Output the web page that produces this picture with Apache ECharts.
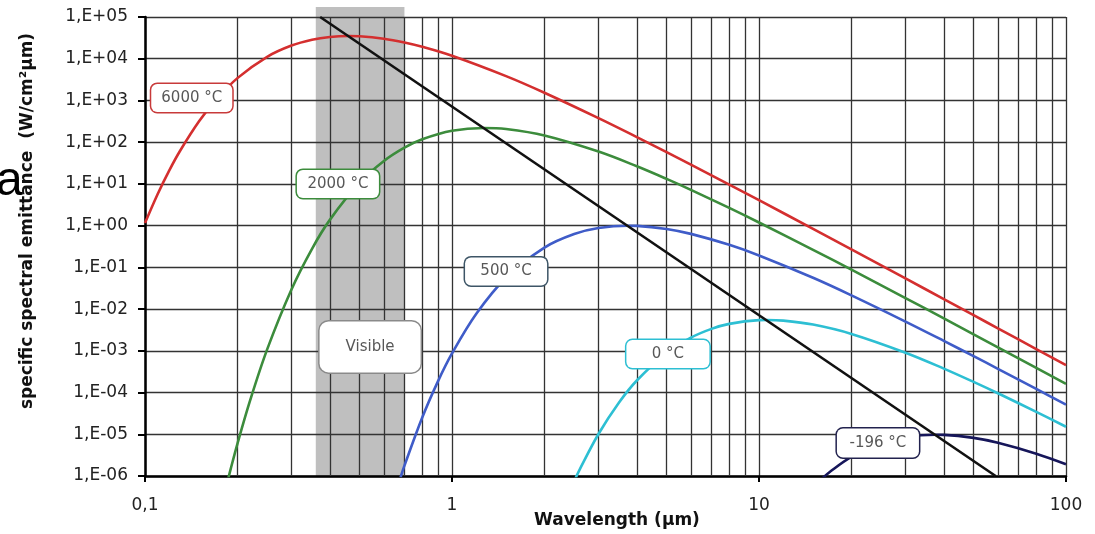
<!DOCTYPE html>
<html><head><meta charset="utf-8">
<script src="https://cdn.jsdelivr.net/npm/echarts/dist/echarts.min.js"></script>
<style>html,body{margin:0;padding:0;background:#fff}#c{width:1095px;height:534px}</style>
</head><body><div id="c"></div><script>
// ---- data ----
const xTickLabels = ['0,1', '1', '10', '100'];
const yTickLabels = ['1,E-06','1,E-05','1,E-04','1,E-03','1,E-02','1,E-01','1,E+00','1,E+01','1,E+02','1,E+03','1,E+04','1,E+05'];
const xMinorGrid = [0.2,0.3,0.4,0.5,0.6,0.7,0.8,0.9, 2,3,4,5,6,7,8,9, 20,30,40,50,60,70,80,90];

const wl6000 = [0.1,0.11,0.12,0.13,0.15,0.17,0.2,0.25,0.3,0.35,0.4,0.46,0.5,0.6,0.7,0.8,1,1.5,2,3,4,5,6,8,10,15,20,30,40,50,60,80,100];
const em6000 = [1.15,5.73,21.1,61.5,316,1022,3428,11140,20670,28540,33270,35050,34560,30180,24500,19310,11780,3825,1528,376.3,132.4,57.7,28.99,9.65,4.07,0.837,0.270,0.0544,0.01737,0.00716,0.00346,0.00110,0.000453];

const wl2000 = [0.185,0.19,0.2,0.22,0.25,0.3,0.35,0.4,0.5,0.6,0.7,0.8,1,1.27,1.5,2,3,4,5,6,8,10,15,20,30,40,50,60,80,100];
const em2000 = [6.69e-7,1.44e-6,5.91e-6,6.50e-5,1.085e-3,0.0296,0.279,1.375,10.67,35.4,73.9,117.3,187.5,219,206.3,144.6,59.6,26.5,13.19,7.21,2.657,1.189,0.2634,0.0881,0.01839,0.00598,0.00249,0.001213,3.89e-4,1.607e-4];

const wl500 = [0.68,0.7,0.8,0.9,1,1.2,1.5,2,2.5,3,3.75,4,5,6,8,10,15,20,30,40,50,60,80,100];
const em500 = [9.3e-7,1.77e-6,2.52e-5,1.855e-4,8.66e-4,7.74e-3,0.0565,0.298,0.629,0.875,0.996,0.987,0.833,0.635,0.347,0.1933,0.0563,0.02136,5.03e-3,1.731e-3,7.45e-4,3.71e-4,1.223e-4,5.13e-5];

const wl0 = [2.5,2.6,3,3.5,4,5,6,7,8,10,10.6,12,15,20,30,40,50,60,80,100];
const em0 = [7.5e-7,1.39e-6,1.014e-5,5.77e-5,1.944e-4,8.88e-4,2.069e-3,3.36e-3,4.42e-3,5.43e-3,5.48e-3,5.29e-3,4.25e-3,2.54e-3,9.01e-4,3.75e-4,1.798e-4,9.6e-5,3.44e-5,1.513e-5];

const wlM196 = [15,16,17,20,25,30,37.5,40,50,60,80,100];
const emM196 = [5.4e-7,8.5e-7,1.25e-6,2.87e-6,6.1e-6,8.54e-6,9.77e-6,9.69e-6,8.2e-6,6.27e-6,3.43e-6,1.92e-6];

const wienWl = [0.372, 59];
const wienEm = [1e5, 1e-6];

const visibleRange = [0.36, 0.70];
// ---------------------------------------

const Y_MIN = 1e-6, Y_MAX = 1e5;
const pairs = (xs, ys) => xs.map((x, i) => [x, ys[i]]);
const FONT = 'DejaVu Sans';

function boxLabel(text, color, coord, w, h, pad, radius) {
  return {
    symbol: 'rect', symbolSize: [1, 1], silent: true,
    itemStyle: { color: 'rgba(0,0,0,0)' },
    label: {
      show: true, position: 'inside', formatter: text,
      fontFamily: FONT, fontSize: 15, color: '#585858',
      backgroundColor: '#ffffff', borderColor: color, borderWidth: 1.5,
      borderRadius: radius, width: w, height: h, lineHeight: h,
      align: 'center', verticalAlign: 'middle', padding: pad
    },
    data: [{ coord: coord }]
  };
}

function curve(name, xs, ys, color, label) {
  return {
    type: 'line', name: name, data: pairs(xs, ys),
    showSymbol: false, symbol: 'none', smooth: 0.35, clip: true,
    lineStyle: { color: color, width: 2.6 }, itemStyle: { color: color },
    z: 3, silent: true, markPoint: label
  };
}

const chart = echarts.init(document.getElementById('c'), null, { renderer: 'canvas' });
chart.setOption({
  animation: false,
  backgroundColor: '#ffffff',
  grid: { left: 145, right: 29, top: 17, bottom: 58, containLabel: false, outerBoundsMode: 'none' },
  xAxis: {
    type: 'log', logBase: 10, min: 0.1, max: 100, interval: 1,
    axisLine: { show: true, onZero: false, lineStyle: { color: '#000', width: 2.5 } },
    axisTick: { show: true, inside: false, length: 6, lineStyle: { color: '#000', width: 2 } },
    axisLabel: { margin: 21, fontFamily: FONT, fontSize: 17, color: '#222',
      formatter: v => xTickLabels[Math.round(Math.log10(v)) + 1] ?? '' },
    splitLine: { show: true, lineStyle: { color: '#333', width: 1.3 } },
    minorTick: { show: false }, minorSplitLine: { show: false }
  },
  yAxis: {
    type: 'log', logBase: 10, min: Y_MIN, max: Y_MAX, interval: 1,
    axisLine: { show: true, onZero: false, lineStyle: { color: '#000', width: 2.5 } },
    axisTick: { show: true, inside: false, length: 7, lineStyle: { color: '#000', width: 2 } },
    axisLabel: { margin: 17, fontFamily: FONT, fontSize: 17, color: '#222',
      formatter: v => yTickLabels[Math.round(Math.log10(v)) + 6] ?? '' },
    splitLine: { show: true, lineStyle: { color: '#333', width: 1.3 } },
    minorTick: { show: false }, minorSplitLine: { show: false }
  },
  graphic: [
    { type: 'text', id: 'yname', x: 28, y: 221, rotation: Math.PI / 2, silent: true,
      style: { text: 'specific spectral emittance  (W/cm²µm)', font: 'bold 17px "DejaVu Sans"',
        fill: '#111', align: 'center', verticalAlign: 'middle' } },
    { type: 'text', id: 'xname', x: 617, y: 521, rotation: 0, silent: true,
      style: { text: 'Wavelength (µm)', font: 'bold 17px "DejaVu Sans"',
        fill: '#111', align: 'center', verticalAlign: 'middle' } },
    { type: 'text', id: 'stray', x: -4, y: 182, rotation: 0, silent: true,
      style: { text: 'a', font: '48px "Liberation Sans"', fill: '#000', align: 'left', verticalAlign: 'middle' } }
  ],
  series: [
    {
      type: 'custom', name: 'Visible band', z: -1, clip: false, silent: true,
      data: [visibleRange],
      renderItem: (params, api) => {
        const a = api.coord([api.value(0), Y_MAX]);
        const b = api.coord([api.value(1), Y_MIN]);
        return { type: 'rect', shape: { x: a[0], y: a[1] - 10, width: b[0] - a[0], height: b[1] - a[1] + 10 },
          style: { fill: '#bfbfbf' } };
      }
    },
    {
      type: 'line', name: 'Wien', data: pairs(wienWl, wienEm), showSymbol: false, symbol: 'none',
      lineStyle: { color: '#111', width: 2.6 }, itemStyle: { color: '#111' }, z: 4, silent: true,
      markLine: {
        silent: true, z: 1, symbol: ['none', 'none'], label: { show: false },
        lineStyle: { color: '#333', width: 1.3, type: 'solid' },
        emphasis: { disabled: true },
        data: xMinorGrid.map(v => ({ xAxis: v }))
      },
      markPoint: boxLabel('Visible', '#8a8a8a', [0.541, 1.24e-3], 85, 35, 8, 9)
    },
    curve('6000 °C', wl6000, em6000, '#d42f2f', boxLabel('6000 °C', '#c83a3a', [0.142, 1150], 61, 18, [5, 10], 6)),
    curve('2000 °C', wl2000, em2000, '#3c8c3c', boxLabel('2000 °C', '#3c8c3c', [0.425, 10], 62, 18, [5, 10], 6)),
    curve('500 °C', wl500, em500, '#3f5cc8', boxLabel('500 °C', '#3d5566', [1.5, 0.08], 62, 18, [5, 10], 6)),
    curve('0 °C', wl0, em0, '#2dbfd3', boxLabel('0 °C', '#2dbfd3', [5.05, 8.4e-4], 63, 18, [5, 10], 6)),
    curve('-196 °C', wlM196, emM196, '#16165a', boxLabel('-196 °C', '#22224e', [24.4, 6.2e-6], 62, 19, [5, 10], 6))
  ]
});
</script></body></html>
